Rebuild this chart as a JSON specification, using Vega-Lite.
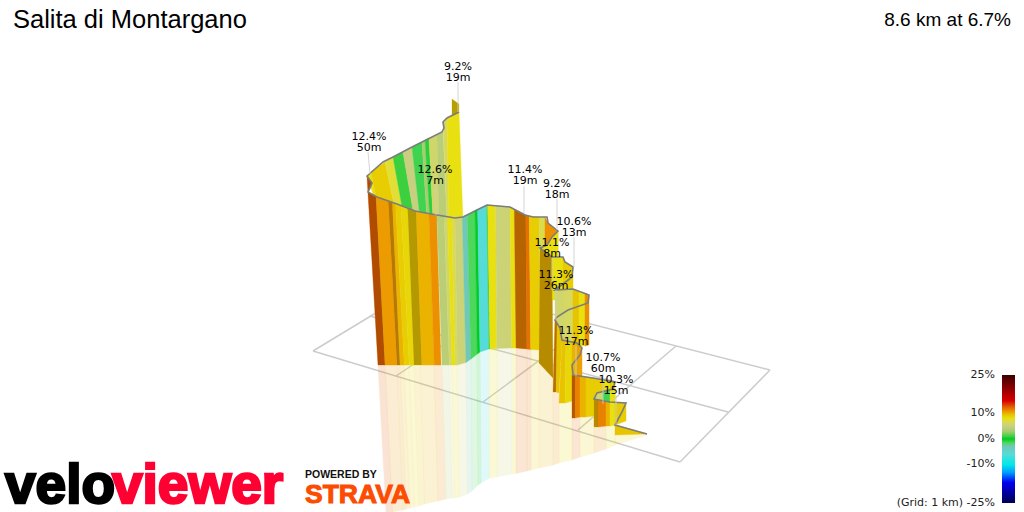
{
  "$schema": "https://vega.github.io/schema/vega-lite/v6.json",
  "autosize": {"type": "none"},
  "width": 1024,
  "height": 512,
  "padding": 0,
  "background": "white",
  "view": {"stroke": null},
  "config": {"axis": {"grid": false}},
  "datasets": {
    "grid": [
      {"x": 313, "y": 351, "x2": 427, "y2": 282},
      {"x": 427, "y": 282, "x2": 770, "y2": 370},
      {"x": 313, "y": 351, "x2": 680, "y2": 462},
      {"x": 680, "y": 462, "x2": 770, "y2": 370},
      {"x": 396, "y": 376, "x2": 510, "y2": 300},
      {"x": 483, "y": 402, "x2": 590, "y2": 323},
      {"x": 578, "y": 430, "x2": 676, "y2": 346},
      {"x": 370, "y": 316, "x2": 728, "y2": 412}
    ],
    "reflection": [
      {"band": 1, "grade": 12.5, "x": [378, 385, 392.5, 386], "y": [365, 365, 512, 512]},
      {"band": 2, "grade": 10.7, "x": [385, 397, 403, 392.5], "y": [365, 365, 510, 512]},
      {"band": 3, "grade": 10.7, "x": [397, 400, 406, 403], "y": [365, 365, 509, 510]},
      {"band": 4, "grade": 10, "x": [400, 404, 410, 406], "y": [365, 365, 508, 509]},
      {"band": 5, "grade": 9, "x": [404, 409, 414.5, 410], "y": [365, 365, 507, 508]},
      {"band": 6, "grade": 8.5, "x": [409, 414, 419, 414.5], "y": [365, 365, 506, 507]},
      {"band": 7, "grade": 9.5, "x": [414, 420, 424.5, 419], "y": [365, 365, 504, 506]},
      {"band": 8, "grade": 10, "x": [420, 434, 438, 424.5], "y": [365, 365, 501, 504]},
      {"band": 9, "grade": 11, "x": [434, 442, 446, 438], "y": [365, 365, 499, 501]},
      {"band": 10, "grade": 4, "x": [442, 449, 452, 446], "y": [365, 365, 498, 499]},
      {"band": 11, "grade": 6, "x": [449, 452, 455, 452], "y": [365, 365, 498, 498]},
      {"band": 12, "grade": 8, "x": [452, 457, 459.5, 455], "y": [365, 365, 497, 498]},
      {"band": 13, "grade": 5.5, "x": [457, 466, 467.5, 459.5], "y": [365, 362.5, 494, 497]},
      {"band": 14, "grade": -3, "x": [466, 471, 472, 467.5], "y": [362.5, 359, 491, 494]},
      {"band": 15, "grade": -1.4, "x": [471, 477, 478, 472], "y": [359, 354, 485, 491]},
      {"band": 16, "grade": 0, "x": [477, 480, 481, 478], "y": [354, 352, 483, 485]},
      {"band": 17, "grade": -6, "x": [480, 489, 489.5, 481], "y": [352, 349, 478, 483]},
      {"band": 18, "grade": 8, "x": [489, 497, 497, 489.5], "y": [349, 348.5, 477, 478]},
      {"band": 19, "grade": 5.5, "x": [497, 512, 512, 497], "y": [348.5, 348, 474, 477]},
      {"band": 20, "grade": 8, "x": [512, 516, 516, 512], "y": [348, 348, 473.5, 474]},
      {"band": 21, "grade": 12, "x": [516, 527, 527, 516], "y": [348, 349, 471, 473.5]},
      {"band": 22, "grade": 12, "x": [527, 531, 531, 527], "y": [349, 349.5, 470, 471]},
      {"band": 23, "grade": 9, "x": [531, 539, 539, 531], "y": [349.5, 350, 468, 470]},
      {"band": 24, "grade": 10, "x": [539, 553, 553, 539], "y": [363, 378, 465, 468]},
      {"band": 25, "grade": 11, "x": [553, 559, 559, 553], "y": [392, 393, 463, 465]},
      {"band": 26, "grade": 8.5, "x": [559, 572, 572, 559], "y": [403, 401, 460, 463]},
      {"band": 27, "grade": 12, "x": [572, 580, 580, 572], "y": [418, 417, 457, 460]},
      {"band": 28, "grade": 9, "x": [580, 594, 594, 580], "y": [417, 416, 453, 457]},
      {"band": 29, "grade": 11, "x": [594, 606, 606, 594], "y": [427, 426, 449, 453]},
      {"band": 30, "grade": 8.5, "x": [606, 615, 615, 606], "y": [426, 425, 445, 449]},
      {"band": 31, "grade": 9, "x": [615, 647, 615], "y": [435, 435, 445]}
    ],
    "bands": [
      {"band": 101, "grade": 9, "face": "back", "x": [452, 459, 459, 452], "y": [99, 104, 113, 116]},
      {"band": 102, "grade": 8, "x": [367, 371, 377, 373], "y": [176, 172, 201, 194]},
      {"band": 103, "grade": 9, "x": [371, 385, 395, 377], "y": [172, 162, 209, 201]},
      {"band": 104, "grade": 7.5, "x": [385, 393, 403, 395], "y": [162, 157, 212, 209]},
      {"band": 105, "grade": 1, "x": [393, 403, 414, 403], "y": [157, 152, 216, 212]},
      {"band": 106, "grade": 5, "x": [403, 412, 420, 414], "y": [152, 147, 218, 216]},
      {"band": 107, "grade": -1, "x": [412, 422, 427, 420], "y": [147, 142, 220, 218]},
      {"band": 108, "grade": 3, "x": [422, 425, 430, 427], "y": [142, 140, 220, 220]},
      {"band": 109, "grade": -0.5, "x": [425, 429, 433, 430], "y": [140, 138, 220, 220]},
      {"band": 110, "grade": 6, "x": [429, 437, 439, 433], "y": [138, 135, 222, 220]},
      {"band": 111, "grade": 4, "x": [437, 443, 447, 439], "y": [135, 131, 222, 222]},
      {"band": 112, "grade": 6.5, "x": [443, 447, 449, 447], "y": [122, 118, 222, 222]},
      {"band": 113, "grade": 8, "x": [447, 459, 463, 449], "y": [118, 112, 222, 222]},
      {"band": 120, "grade": 12.5, "face": "back", "x": [367, 372, 370, 368, 376, 385, 378], "y": [176, 183, 188, 192, 197, 365, 365]},
      {"band": 121, "grade": 10.7, "x": [376, 388.3, 397, 385], "y": [197, 201, 365, 365]},
      {"band": 122, "grade": 10.7, "face": "back", "x": [388.3, 392.3, 400, 397], "y": [201, 203, 365, 365]},
      {"band": 123, "grade": 10, "x": [392.3, 395.7, 404.3, 400], "y": [203, 204, 365, 365]},
      {"band": 124, "grade": 9, "x": [395.7, 401, 409.3, 404.3], "y": [204, 206, 365, 365]},
      {"band": 125, "grade": 8.5, "x": [401, 407.7, 414, 409.3], "y": [206, 208, 365, 365]},
      {"band": 126, "grade": 9.5, "face": "back", "x": [407.7, 416, 421.7, 414], "y": [208, 211, 365, 365]},
      {"band": 127, "grade": 10, "x": [416, 429, 434.3, 421.7], "y": [211, 214, 365, 365]},
      {"band": 128, "grade": 11, "x": [429, 436.7, 441, 434.3], "y": [214, 216, 365, 365]},
      {"band": 130, "grade": 4, "x": [437, 444.3, 449.3, 442], "y": [216, 217, 365, 365]},
      {"band": 131, "grade": 6, "x": [444.3, 447.7, 452, 449.3], "y": [217, 217.5, 365, 365]},
      {"band": 132, "grade": 8, "x": [447.7, 451.7, 455, 452], "y": [217.5, 218, 365, 365]},
      {"band": 133, "grade": 7, "x": [451.7, 455, 457.3, 455], "y": [218, 218, 365, 365]},
      {"band": 134, "grade": 5.5, "x": [455, 462.3, 466, 457.3], "y": [218, 217, 362.5, 365]},
      {"band": 135, "grade": -3, "x": [462.3, 467.3, 471, 466], "y": [217, 215, 359, 362.5]},
      {"band": 136, "grade": -1.4, "x": [467.3, 475, 477.3, 471], "y": [215, 210.5, 354, 359]},
      {"band": 137, "grade": 0, "x": [475, 477.7, 480, 477.3], "y": [210.5, 209, 352, 354]},
      {"band": 138, "grade": -6, "x": [477.7, 486.7, 489, 480], "y": [209, 205, 349, 352]},
      {"band": 139, "grade": 1, "x": [486.7, 487.7, 490, 489], "y": [205, 205, 349, 349]},
      {"band": 140, "grade": 8, "x": [487.7, 495.7, 496.7, 490], "y": [205, 205.5, 348.5, 349]},
      {"band": 141, "grade": 5.5, "x": [495.7, 510, 511.7, 496.7], "y": [205.5, 207, 348, 348.5]},
      {"band": 142, "grade": 8, "x": [510, 514.3, 516, 511.7], "y": [207, 209, 348, 348]},
      {"band": 143, "grade": 11.5, "face": "back", "x": [514.3, 525.7, 526.7, 516], "y": [209, 215, 349, 348]},
      {"band": 144, "grade": 12, "x": [525.7, 529.3, 530.7, 526.7], "y": [215, 216, 349.5, 349]},
      {"band": 145, "grade": 9, "x": [529.3, 539, 540, 530.7], "y": [216, 217, 350, 349.5]},
      {"band": 146, "grade": 7, "x": [539, 545, 547, 540], "y": [217, 217, 300, 350]},
      {"band": 150, "grade": 11, "x": [545, 548, 553, 558, 558, 545], "y": [217, 223, 227, 231, 260, 260]},
      {"band": 151, "grade": 8, "x": [558, 552, 547, 540, 552, 558], "y": [231, 237, 245, 248, 258, 258]},
      {"band": 152, "grade": 10, "face": "back", "x": [540, 552, 553, 539], "y": [248, 257, 378, 363]},
      {"band": 153, "grade": 8, "x": [552, 563, 563, 552], "y": [257, 257, 300, 300]},
      {"band": 154, "grade": 9, "x": [563, 565, 573, 573, 563], "y": [257, 262, 267, 300, 300]},
      {"band": 160, "grade": 6, "x": [555, 565, 565, 555], "y": [290, 289, 343, 343]},
      {"band": 161, "grade": 6.5, "x": [565, 573, 573, 565], "y": [289, 289, 345, 345]},
      {"band": 162, "grade": 9.5, "x": [573, 579, 579, 573], "y": [289, 291, 346, 346]},
      {"band": 163, "grade": 8, "x": [579, 585, 585, 579], "y": [291, 293, 346, 346]},
      {"band": 164, "grade": 11, "x": [585, 589, 589, 585], "y": [293, 295, 345, 346]},
      {"band": 170, "grade": 11, "face": "back", "x": [555, 557, 556, 553], "y": [319, 323, 392, 392]},
      {"band": 171, "grade": 9.5, "x": [557, 560, 562, 559, 556], "y": [323, 328, 340, 393, 392]},
      {"band": 172, "grade": 9.5, "x": [562, 566, 565, 559], "y": [340, 341, 403, 403]},
      {"band": 173, "grade": 8.5, "x": [566, 572, 572, 565], "y": [341, 342, 401, 403]},
      {"band": 174, "grade": 10, "x": [572, 577, 577, 572], "y": [342, 343, 376, 401]},
      {"band": 175, "grade": 10.5, "x": [577, 582, 582, 577], "y": [343, 348, 376, 376]},
      {"band": 180, "grade": 12, "face": "back", "x": [572, 575, 575, 572], "y": [375, 375.5, 418, 418]},
      {"band": 181, "grade": 11.5, "x": [575, 580, 580, 575], "y": [375.5, 376, 417, 418]},
      {"band": 182, "grade": 10, "x": [580, 586, 586, 580], "y": [376, 377, 417, 417]},
      {"band": 183, "grade": 9, "x": [586, 594, 594, 586], "y": [377, 378, 416, 417]},
      {"band": 184, "grade": 9, "x": [594, 604, 604, 594], "y": [378, 380, 405, 405]},
      {"band": 185, "grade": 8, "x": [604, 610, 610, 604], "y": [380, 381, 405, 405]},
      {"band": 186, "grade": 9, "x": [610, 615, 615, 610], "y": [381, 382, 405, 405]},
      {"band": 190, "grade": 6, "x": [594, 597, 603, 603], "y": [399, 393, 391, 403]},
      {"band": 191, "grade": -1, "x": [603, 610, 610, 603], "y": [391, 390, 403, 403]},
      {"band": 192, "grade": 8, "x": [610, 613, 615, 615, 610], "y": [390, 389, 382, 404, 404]},
      {"band": 193, "grade": 10, "face": "back", "x": [594, 598, 598, 594], "y": [399, 400, 427, 427]},
      {"band": 194, "grade": 11.5, "x": [598, 606, 606, 598], "y": [400, 402, 426, 427]},
      {"band": 195, "grade": 10, "x": [606, 610, 610, 606], "y": [402, 403, 426, 426]},
      {"band": 196, "grade": 8, "x": [610, 615, 615, 610], "y": [403, 403, 425, 426]},
      {"band": 197, "grade": 9, "x": [615, 626, 626, 615], "y": [403, 403, 421, 425]},
      {"band": 198, "grade": 9.5, "x": [615, 647, 615], "y": [425, 434, 435]}
    ],
    "road": [
      {"x": [459, 447, 443, 444, 442, 430, 412, 393, 383, 367, 372, 370, 368, 377, 397, 415, 437, 455, 463, 473, 487, 510, 525, 533, 547, 548, 553, 558, 552, 547, 540, 552, 563, 565, 573, 572, 555, 573, 589, 588, 568, 557, 555, 560, 562, 577, 582, 580, 572, 573, 593, 615, 613, 597, 594, 610, 626, 622, 615, 647],
       "y": [112, 118, 122, 128, 132, 138, 147, 157, 162, 176, 183, 188, 192, 197, 204, 211, 215, 218, 217, 212, 205, 207, 215, 217, 217, 223, 227, 231, 237, 245, 248, 257, 257, 262, 267, 277, 290, 289, 295, 303, 310, 317, 320, 328, 340, 343, 348, 355, 365, 375, 378, 382, 389, 393, 399, 402, 403, 412, 425, 434]}
    ],
    "leaders": [
      {"x": 458, "y": 82, "x2": 458, "y2": 112},
      {"x": 368, "y": 152, "x2": 370, "y2": 174},
      {"x": 436, "y": 185, "x2": 436, "y2": 215},
      {"x": 524, "y": 186, "x2": 524, "y2": 213},
      {"x": 557, "y": 199, "x2": 557, "y2": 230},
      {"x": 574, "y": 237, "x2": 574, "y2": 267},
      {"x": 552, "y": 258, "x2": 552, "y2": 290},
      {"x": 556, "y": 290, "x2": 556, "y2": 320},
      {"x": 576, "y": 346, "x2": 576, "y2": 376},
      {"x": 603, "y": 373, "x2": 603, "y2": 404},
      {"x": 616, "y": 395, "x2": 616, "y2": 425}
    ],
    "climbs": [
      {"label": "9.2%\n19m", "x": 458, "y": 67},
      {"label": "12.4%\n50m", "x": 369, "y": 137},
      {"label": "12.6%\n7m", "x": 435, "y": 170},
      {"label": "11.4%\n19m", "x": 525, "y": 170},
      {"label": "9.2%\n18m", "x": 557, "y": 184},
      {"label": "10.6%\n13m", "x": 574, "y": 222},
      {"label": "11.1%\n8m", "x": 552, "y": 243},
      {"label": "11.3%\n26m", "x": 556, "y": 275},
      {"label": "11.3%\n17m", "x": 576, "y": 331},
      {"label": "10.7%\n60m", "x": 603, "y": 358},
      {"label": "10.3%\n15m", "x": 616, "y": 380}
    ],
    "legend": [
      {"label": "25%", "x": 995, "y": 375},
      {"label": "10%", "x": 995, "y": 413},
      {"label": "0%", "x": 995, "y": 439},
      {"label": "-10%", "x": 995, "y": 464},
      {"label": "(Grid: 1 km) -25%", "x": 995, "y": 503}
    ]
  },
  "encoding": {
    "x": {"field": "x", "type": "quantitative", "scale": {"domain": [0, 1024], "nice": false, "zero": false}, "axis": null},
    "y": {"field": "y", "type": "quantitative", "scale": {"domain": [512, 0], "nice": false, "zero": false}, "axis": null}
  },
  "layer": [
    {
      "data": {"name": "grid"},
      "mark": {"type": "rule", "color": "#cccccc", "strokeWidth": 1.5},
      "encoding": {"x2": {"field": "x2"}, "y2": {"field": "y2"}}
    },
    {
      "data": {"name": "reflection"},
      "transform": [{"flatten": ["x", "y"]}],
      "mark": {"type": "line", "interpolate": "linear-closed", "opacity": 0.17, "strokeWidth": 0.4},
      "encoding": {
        "detail": {"field": "band"},
        "order": {"value": null},
        "fill": {"field": "grade", "type": "quantitative", "scale": {"domain": [-25, -17, -13, -10, -6, -3, -1.5, 0, 1, 3, 5, 6.5, 8, 9.5, 11, 12.5, 15, 20, 25], "range": ["#000050", "#0000f0", "#00a0ff", "#00e8e8", "#55dcd8", "#70c8b8", "#50d860", "#00cc22", "#3cd040", "#a8cc70", "#c8d080", "#d6d860", "#e8e010", "#e8c400", "#ec9000", "#e26000", "#d80000", "#8b0000", "#3a0000"]}, "legend": null},
        "stroke": {"field": "grade", "type": "quantitative", "scale": {"domain": [-25, -17, -13, -10, -6, -3, -1.5, 0, 1, 3, 5, 6.5, 8, 9.5, 11, 12.5, 15, 20, 25], "range": ["#000050", "#0000f0", "#00a0ff", "#00e8e8", "#55dcd8", "#70c8b8", "#50d860", "#00cc22", "#3cd040", "#a8cc70", "#c8d080", "#d6d860", "#e8e010", "#e8c400", "#ec9000", "#e26000", "#d80000", "#8b0000", "#3a0000"]}, "legend": null}
      }
    },
    {
      "data": {"name": "bands"},
      "transform": [{"flatten": ["x", "y"]}],
      "mark": {"type": "line", "interpolate": "linear-closed", "strokeWidth": 0.4},
      "encoding": {
        "detail": {"field": "band"},
        "order": {"value": null},
        "fill": {"field": "grade", "type": "quantitative", "scale": {"domain": [-25, -17, -13, -10, -6, -3, -1.5, 0, 1, 3, 5, 6.5, 8, 9.5, 11, 12.5, 15, 20, 25], "range": ["#000050", "#0000f0", "#00a0ff", "#00e8e8", "#55dcd8", "#70c8b8", "#50d860", "#00cc22", "#3cd040", "#a8cc70", "#c8d080", "#d6d860", "#e8e010", "#e8c400", "#ec9000", "#e26000", "#d80000", "#8b0000", "#3a0000"]}, "legend": null},
        "stroke": {"field": "grade", "type": "quantitative", "scale": {"domain": [-25, -17, -13, -10, -6, -3, -1.5, 0, 1, 3, 5, 6.5, 8, 9.5, 11, 12.5, 15, 20, 25], "range": ["#000050", "#0000f0", "#00a0ff", "#00e8e8", "#55dcd8", "#70c8b8", "#50d860", "#00cc22", "#3cd040", "#a8cc70", "#c8d080", "#d6d860", "#e8e010", "#e8c400", "#ec9000", "#e26000", "#d80000", "#8b0000", "#3a0000"]}, "legend": null}
      }
    },
    {
      "data": {"name": "bands"},
      "transform": [{"filter": "datum.face === 'back'"}, {"flatten": ["x", "y"]}],
      "mark": {"type": "line", "interpolate": "linear-closed", "fill": "#000000", "stroke": null, "opacity": 0.22},
      "encoding": {"detail": {"field": "band"}, "order": {"value": null}}
    },
    {
      "data": {"name": "road"},
      "transform": [{"flatten": ["x", "y"]}],
      "mark": {"type": "line", "color": "#7d7d7d", "strokeWidth": 1.6},
      "encoding": {"order": {"value": null}}
    },
    {
      "data": {"name": "leaders"},
      "mark": {"type": "rule", "color": "#cccccc", "strokeWidth": 1, "opacity": 0.85},
      "encoding": {"x2": {"field": "x2"}, "y2": {"field": "y2"}}
    },
    {
      "data": {"name": "climbs"},
      "mark": {"type": "text", "font": "DejaVu Sans", "fontSize": 11, "lineBreak": "\n", "lineHeight": 11, "baseline": "middle", "color": "#000000"},
      "encoding": {"text": {"field": "label"}}
    },
    {
      "data": {"values": [{"x": 1002, "x2": 1015, "y": 375, "y2": 503}]},
      "mark": {
        "type": "rect",
        "fill": {
          "gradient": "linear", "x1": 0, "y1": 0, "x2": 0, "y2": 1,
          "stops": [
            {"offset": 0, "color": "#3a0000"},
            {"offset": 0.1, "color": "#8b0000"},
            {"offset": 0.2, "color": "#d80000"},
            {"offset": 0.25, "color": "#e26000"},
            {"offset": 0.28, "color": "#ec9000"},
            {"offset": 0.31, "color": "#e8c400"},
            {"offset": 0.34, "color": "#e8e010"},
            {"offset": 0.37, "color": "#d6d860"},
            {"offset": 0.4, "color": "#c8d080"},
            {"offset": 0.44, "color": "#a8cc70"},
            {"offset": 0.48, "color": "#3cd040"},
            {"offset": 0.5, "color": "#00cc22"},
            {"offset": 0.53, "color": "#50d860"},
            {"offset": 0.56, "color": "#70c8b8"},
            {"offset": 0.62, "color": "#55dcd8"},
            {"offset": 0.7, "color": "#00e8e8"},
            {"offset": 0.76, "color": "#00a0ff"},
            {"offset": 0.84, "color": "#0000f0"},
            {"offset": 1, "color": "#000050"}
          ]
        }
      },
      "encoding": {"x2": {"field": "x2"}, "y2": {"field": "y2"}}
    },
    {
      "data": {"name": "legend"},
      "mark": {"type": "text", "font": "DejaVu Sans", "fontSize": 11, "align": "right", "baseline": "middle", "color": "#222222"},
      "encoding": {"text": {"field": "label"}}
    },
    {
      "data": {"values": [{"x": 13, "y": 28, "label": "Salita di Montargano"}]},
      "mark": {"type": "text", "font": "Liberation Sans", "fontSize": 25.5, "align": "left", "baseline": "alphabetic", "color": "#000000"},
      "encoding": {"text": {"field": "label"}}
    },
    {
      "data": {"values": [{"x": 1011, "y": 26, "label": "8.6 km at 6.7%"}]},
      "mark": {"type": "text", "font": "Liberation Sans", "fontSize": 19, "align": "right", "baseline": "alphabetic", "color": "#000000"},
      "encoding": {"text": {"field": "label"}}
    },
    {
      "data": {"values": [{"x": 5, "y": 503, "label": "velo"}]},
      "mark": {"type": "text", "font": "Liberation Sans", "fontWeight": "bold", "fontSize": 55, "align": "left", "baseline": "alphabetic", "color": "#000000", "stroke": "#000000", "strokeWidth": 2.5},
      "encoding": {"text": {"field": "label"}}
    },
    {
      "data": {"values": [{"x": 112, "y": 503, "label": "viewer"}]},
      "mark": {"type": "text", "font": "Liberation Sans", "fontWeight": "bold", "fontSize": 55, "align": "left", "baseline": "alphabetic", "color": "#ff0033", "stroke": "#ff0033", "strokeWidth": 2.5},
      "encoding": {"text": {"field": "label"}}
    },
    {
      "data": {"values": [{"x": 305, "y": 478, "label": "POWERED BY"}]},
      "mark": {"type": "text", "font": "Liberation Sans", "fontWeight": "bold", "fontSize": 10.5, "align": "left", "baseline": "alphabetic", "color": "#111111"},
      "encoding": {"text": {"field": "label"}}
    },
    {
      "data": {"values": [{"x": 305, "y": 503, "label": "STRAVA"}]},
      "mark": {"type": "text", "font": "Liberation Sans", "fontWeight": "bold", "fontSize": 26.5, "align": "left", "baseline": "alphabetic", "color": "#fc4c02", "stroke": "#fc4c02", "strokeWidth": 1},
      "encoding": {"text": {"field": "label"}}
    }
  ]
}
